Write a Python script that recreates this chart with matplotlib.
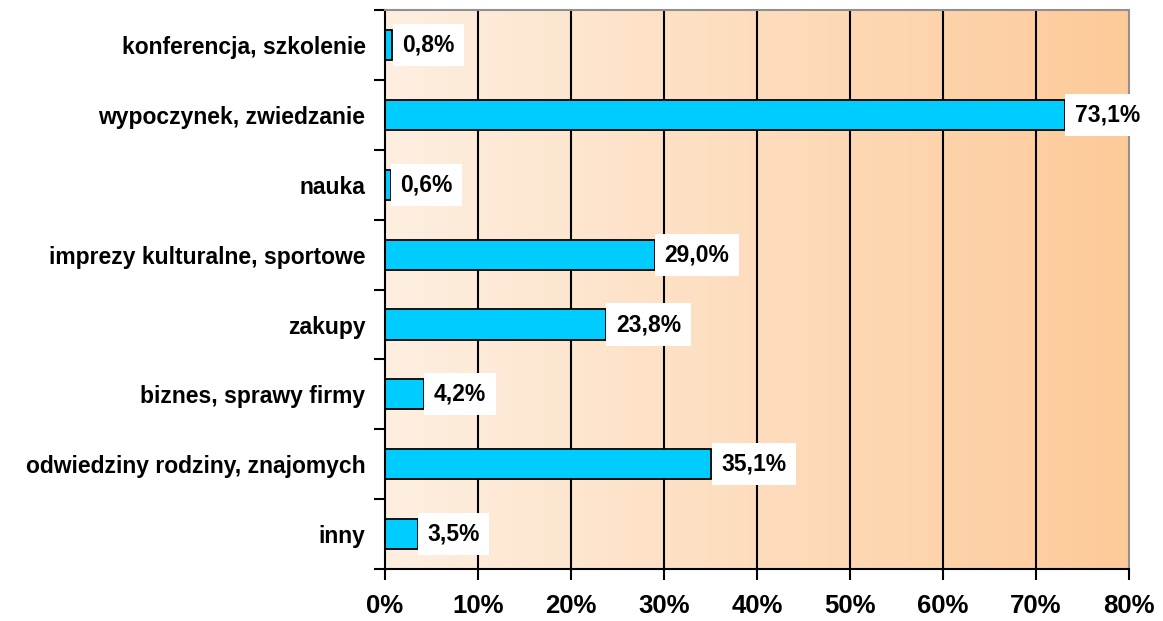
import numpy as np
import matplotlib.pyplot as plt
from matplotlib.colors import LinearSegmentedColormap

plt.rcParams['font.family'] = ['Liberation Sans', 'DejaVu Sans']

# cele przyjazdu, udzial procentowy
categories = ['konferencja, szkolenie', 'wypoczynek, zwiedzanie', 'nauka',
              'imprezy kulturalne, sportowe', 'zakupy', 'biznes, sprawy firmy',
              'odwiedziny rodziny, znajomych', 'inny']
values = [0.8, 73.1, 0.6, 29.0, 23.8, 4.2, 35.1, 3.5]
x_ticks = [0, 10, 20, 30, 40, 50, 60, 70, 80]

fig = plt.figure(figsize=(11.63, 6.21), dpi=100)
ax = fig.add_axes([0.331, 0.0837, 0.6398, 0.9])

n = len(categories)
ypos = np.arange(n)[::-1]

# tlo z gradientem
grad = LinearSegmentedColormap.from_list('bg', ['#FEEFE1', '#FDCA99'])
ax.imshow(np.linspace(0, 1, 256).reshape(1, -1), cmap=grad, aspect='auto',
          extent=[0, 80, -0.5, n - 0.5], zorder=0)

for t in x_ticks[1:-1]:
    ax.axvline(t, color='black', lw=1.5, zorder=1)

ax.barh(ypos, values, height=0.43, color='#00CCFF', edgecolor='black', lw=1.3, zorder=2)

for y, v in zip(ypos, values):
    ax.text(v + 1.05, y, f'{v:.1f}%'.replace('.', ','), va='center', ha='left',
            fontsize=16.5, fontweight='bold', zorder=3,
            bbox=dict(facecolor='white', edgecolor='none', pad=7))

ax.set_xlim(0, 80)
ax.set_ylim(-0.5, n - 0.5)
ax.set_xticks(x_ticks)
ax.set_xticklabels([f'{t}%' for t in x_ticks], fontsize=18.5, fontweight='bold')
ax.set_yticks(ypos)
ax.set_yticklabels(categories, fontsize=16.5, fontweight='bold')
ax.set_yticks(np.arange(n + 1) - 0.5, minor=True)
ax.tick_params(axis='y', which='major', length=0, pad=14)
ax.tick_params(axis='y', which='minor', length=8, width=1.5)
ax.tick_params(axis='x', length=8, width=1.5, pad=10)

for side in ['left', 'bottom']:
    ax.spines[side].set_linewidth(1.5)
for side in ['top', 'right']:
    ax.spines[side].set_color('#909090')
    ax.spines[side].set_linewidth(1.5)

fig.savefig('out.png', dpi=100)
